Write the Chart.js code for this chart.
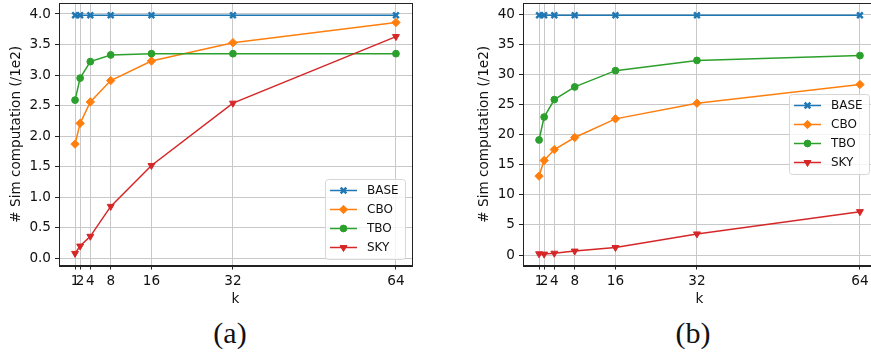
<!DOCTYPE html>
<html>
<head>
<meta charset="utf-8">
<script src="https://cdn.jsdelivr.net/npm/chart.js@4.4.0/dist/chart.umd.min.js"></script>
<style>
  body { margin: 0; width: 871px; height: 352px; overflow: hidden; background: #fff; position: relative; }
  canvas { position: absolute; top: 0; }
  .cap { position: absolute; width: 100px; text-align: center; font-family: 'Liberation Serif', serif; font-size: 30px; line-height: 34px; top: 316px; color: #111; }
</style>
</head>
<body>
<canvas id="chartA" width="435" height="310" style="left:0"></canvas>
<canvas id="chartB" width="450" height="310" style="left:435px"></canvas>
<div class="cap" style="left:180px">(a)</div>
<div class="cap" style="left:643px">(b)</div>
<script>
'use strict';

// x axis
let kValues = [1, 2, 4, 8, 16, 32, 64];
let seriesNames = ['BASE', 'CBO', 'TBO', 'SKY'];

// panel (a)
let baseA = [3.98, 3.98, 3.98, 3.98, 3.98, 3.98, 3.98];
let cboA = [1.87, 2.21, 2.56, 2.91, 3.23, 3.53, 3.86];
let tboA = [2.59, 2.95, 3.22, 3.33, 3.35, 3.35, 3.35];
let skyA = [0.08, 0.2, 0.36, 0.85, 1.52, 2.54, 3.63];
let yTicksA = [0, 0.5, 1, 1.5, 2, 2.5, 3, 3.5, 4];

// panel (b)
let baseB = [39.8, 39.8, 39.8, 39.8, 39.8, 39.8, 39.8];
let cboB = [13.1, 15.7, 17.5, 19.5, 22.6, 25.2, 28.3];
let tboB = [19.1, 22.9, 25.8, 27.9, 30.6, 32.3, 33.1];
let skyB = [0.2, 0.15, 0.3, 0.65, 1.25, 3.5, 7.2];
let yTicksB = [0, 5, 10, 15, 20, 25, 30, 35, 40];

let colors = ['#1f77b4', '#ff7f0e', '#2ca02c', '#d62728'];
let styles = [
  { pointStyle: 'crossRot', radius: 4, borderWidth: 2.5, rotation: 0 },
  { pointStyle: 'rectRot', radius: 4.2, borderWidth: 1, rotation: 0 },
  { pointStyle: 'circle', radius: 3.4, borderWidth: 1, rotation: 0 },
  { pointStyle: 'triangle', radius: 4, borderWidth: 1, rotation: 180 }
];

Chart.defaults.font.family = 'DejaVu Sans';
Chart.defaults.color = '#111';

let tickFont = { size: 13.6 };

// draws the top/right frame and a matplotlib-like legend inside the plot
let frameAndLegend = {
  id: 'frameAndLegend',
  afterDatasetsDraw(chart, args, opts) {
    let ctx = chart.ctx;
    let a = chart.chartArea;
    ctx.save();
    ctx.strokeStyle = '#222';
    ctx.lineWidth = 1;
    ctx.strokeRect(Math.round(a.left) + 0.5, Math.round(a.top) + 0.5, Math.round(a.right - a.left), Math.round(a.bottom - a.top));

    let w = 80;
    let h = 80;
    let x = opts.x;
    let y = opts.y;
    ctx.beginPath();
    ctx.roundRect(x + 0.5, y + 0.5, w, h, 3);
    ctx.fillStyle = 'rgba(255,255,255,0.8)';
    ctx.fill();
    ctx.strokeStyle = '#d6d6d6';
    ctx.stroke();

    ctx.font = '12px "DejaVu Sans"';
    ctx.textBaseline = 'middle';
    for (let i = 0; i < seriesNames.length; i++) {
      let cy = y + 11.5 + i * 19;
      ctx.strokeStyle = colors[i];
      ctx.fillStyle = colors[i];
      ctx.lineWidth = 1.5;
      ctx.beginPath();
      ctx.moveTo(x + 5, cy);
      ctx.lineTo(x + 32, cy);
      ctx.stroke();
      ctx.lineWidth = styles[i].borderWidth;
      Chart.helpers.drawPoint(ctx, styles[i], x + 18.5, cy);
      ctx.fillStyle = '#111';
      ctx.fillText(seriesNames[i], x + 42, cy + 0.5);
    }
    ctx.restore();
  }
};

function noScalePadding(s) {
  s.paddingTop = 0;
  s.paddingBottom = 0;
  s.paddingLeft = 0;
  s.paddingRight = 0;
}

function makeChart(id, series, yTicks, yMin, yMax, yWidth, titlePad, decimals, rightPad, legendAt) {
  let datasets = series.map((vals, i) => ({
    label: seriesNames[i],
    data: vals.map((v, j) => ({ x: kValues[j], y: v })),
    borderColor: colors[i],
    backgroundColor: colors[i],
    borderWidth: 1.5,
    pointStyle: styles[i].pointStyle,
    pointRadius: styles[i].radius,
    pointBorderWidth: styles[i].borderWidth,
    pointRotation: styles[i].rotation,
    tension: 0,
    fill: false,
    order: 3 - i
  }));

  return new Chart(document.getElementById(id), {
    type: 'line',
    data: { datasets: datasets },
    plugins: [frameAndLegend],
    options: {
      responsive: false,
      animation: false,
      layout: { autoPadding: false, padding: { top: 3, right: rightPad, bottom: 2.5, left: 0 } },
      plugins: {
        legend: { display: false },
        tooltip: { enabled: false },
        frameAndLegend: legendAt
      },
      scales: {
        x: {
          type: 'linear',
          min: -2.15,
          max: 67.15,
          afterBuildTicks: s => { s.ticks = kValues.map(v => ({ value: v })); },
          afterFit: s => { s.height = 42; noScalePadding(s); },
          ticks: { autoSkip: false, maxRotation: 0, font: tickFont, padding: 4, callback: v => String(v) },
          grid: { color: '#c8c8c8', tickColor: '#222', tickLength: 4 },
          border: { color: '#222' },
          title: { display: true, text: 'k', font: tickFont, padding: { top: 0, bottom: 0 } }
        },
        y: {
          min: yMin,
          max: yMax,
          afterBuildTicks: s => { s.ticks = yTicks.map(v => ({ value: v })); },
          afterFit: s => { s.width = yWidth; noScalePadding(s); },
          ticks: { font: tickFont, padding: 4, callback: v => v.toFixed(decimals) },
          grid: { color: '#c8c8c8', tickColor: '#222', tickLength: 4 },
          border: { color: '#222' },
          title: { display: true, text: '# Sim computation (/1e2)', font: tickFont, padding: { top: titlePad, bottom: 0 } }
        }
      }
    }
  });
}

makeChart('chartA', [baseA, cboA, tboA, skyA], yTicksA, -0.118, 4.18, 59, 8, 1, 23, { x: 325, y: 179 });
makeChart('chartB', [baseB, cboB, tboB, skyB], yTicksB, -1.74, 41.83, 88, 41, 0, 9, { x: 354, y: 94 });
</script>
</body>
</html>
